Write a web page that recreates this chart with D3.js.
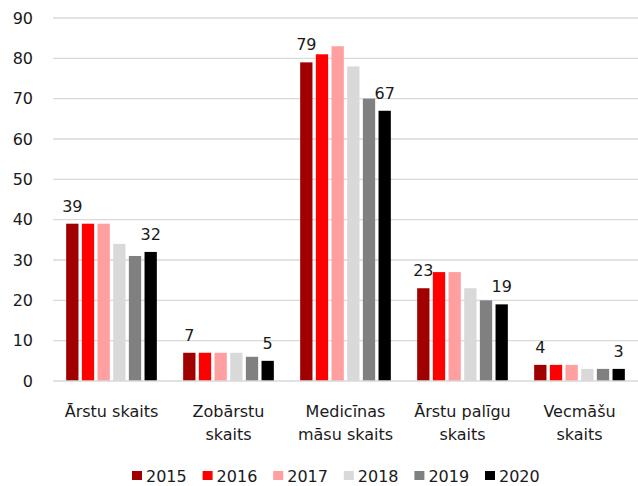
<!DOCTYPE html>
<html>
<head>
<meta charset="utf-8">
<script src="https://cdn.jsdelivr.net/npm/d3@7"></script>
<style>
  html, body { margin: 0; padding: 0; background: #fff; }
  svg text { font-family: "DejaVu Sans", sans-serif; fill: #1a1a1a; }
</style>
</head>
<body>
<svg id="chart" width="638" height="486"></svg>
<script>
const categories = ["Ārstu skaits", "Zobārstu skaits", "Medicīnas māsu skaits", "Ārstu palīgu skaits", "Vecmāšu skaits"];
const categoryLines = [["Ārstu skaits"], ["Zobārstu", "skaits"], ["Medicīnas", "māsu skaits"], ["Ārstu palīgu", "skaits"], ["Vecmāšu", "skaits"]];
const years = ["2015", "2016", "2017", "2018", "2019", "2020"];
const values2015 = [39, 7, 79, 23, 4];
const values2016 = [39, 7, 81, 27, 4];
const values2017 = [39, 7, 83, 27, 4];
const values2018 = [34, 7, 78, 23, 3];
const values2019 = [31, 6, 70, 20, 3];
const values2020 = [32, 5, 67, 19, 3];
const yTicks = [0, 10, 20, 30, 40, 50, 60, 70, 80, 90];
const colors = ["#A00000", "#FF0000", "#FF9F9F", "#D9D9D9", "#808080", "#000000"];
const labeledYears = ["2015", "2020"];

const series = [values2015, values2016, values2017, values2018, values2019, values2020];

const svg = d3.select("#chart");
const plotLeft = 53, plotRight = 638, plotTop = 18, plotBottom = 381;

const x0 = d3.scaleBand().domain(categories).range([plotLeft, plotRight]).paddingInner(0).paddingOuter(0);
const x1 = d3.scaleBand().domain(years).range([0, x0.bandwidth()]).paddingInner(0.215).paddingOuter(0.84);
const y = d3.scaleLinear().domain([0, 90]).range([plotBottom, plotTop]);
const color = d3.scaleOrdinal().domain(years).range(colors);

// gridlines
svg.append("g").selectAll("line").data(yTicks.filter(t => t > 0)).join("line")
  .attr("x1", plotLeft).attr("x2", plotRight)
  .attr("y1", d => y(d)).attr("y2", d => y(d))
  .attr("stroke", "#D9D9D9").attr("stroke-width", 1.3);

// y axis labels
const yAxis = d3.axisLeft(y).tickValues(yTicks).tickSize(0).tickPadding(20);
const yg = svg.append("g").attr("transform", `translate(${plotLeft},0)`).call(yAxis);
yg.select(".domain").remove();
yg.selectAll("text").attr("font-size", 16).attr("fill", "#1a1a1a")
  .style("font-family", "'DejaVu Sans', sans-serif");

// bars
const groups = svg.append("g").selectAll("g").data(categories).join("g")
  .attr("transform", d => `translate(${x0(d)},0)`);
groups.selectAll("rect").data((c, ci) => years.map((yr, yi) => ({ yr, v: series[yi][ci] })))
  .join("rect")
  .attr("x", d => x1(d.yr))
  .attr("width", x1.bandwidth())
  .attr("y", d => y(d.v))
  .attr("height", d => y(0) - y(d.v))
  .attr("fill", d => color(d.yr));

// value labels
groups.selectAll("text.val").data((c, ci) => years.map((yr, yi) => ({ yr, v: series[yi][ci] })).filter(d => labeledYears.includes(d.yr)))
  .join("text").attr("class", "val")
  .attr("x", d => x1(d.yr) + x1.bandwidth() / 2)
  .attr("y", d => y(d.v) - 12)
  .attr("text-anchor", "middle")
  .attr("font-size", 16)
  .text(d => d.v);

// baseline
svg.append("line").attr("x1", plotLeft).attr("x2", plotRight)
  .attr("y1", y(0)).attr("y2", y(0))
  .attr("stroke", "#D9D9D9").attr("stroke-width", 1.5);

// category labels
const xl = svg.append("g").selectAll("text").data(categories).join("text")
  .attr("x", d => x0(d) + x0.bandwidth() / 2)
  .attr("y", 417)
  .attr("text-anchor", "middle")
  .attr("font-size", 16);
xl.selectAll("tspan").data((d, i) => categoryLines[i]).join("tspan")
  .attr("x", function() { return this.parentNode.getAttribute("x"); })
  .attr("dy", (d, i) => i === 0 ? 0 : 23)
  .text(d => d);

// legend
const legendX = [132, 202.6, 273.2, 343.8, 414.4, 485];
const lg = svg.append("g").selectAll("g").data(years).join("g")
  .attr("transform", (d, i) => `translate(${legendX[i]},471)`);
lg.append("rect").attr("width", 10).attr("height", 9).attr("fill", d => color(d));
lg.append("text").attr("x", 14).attr("y", 11).attr("font-size", 16).text(d => d);
</script>
</body>
</html>
